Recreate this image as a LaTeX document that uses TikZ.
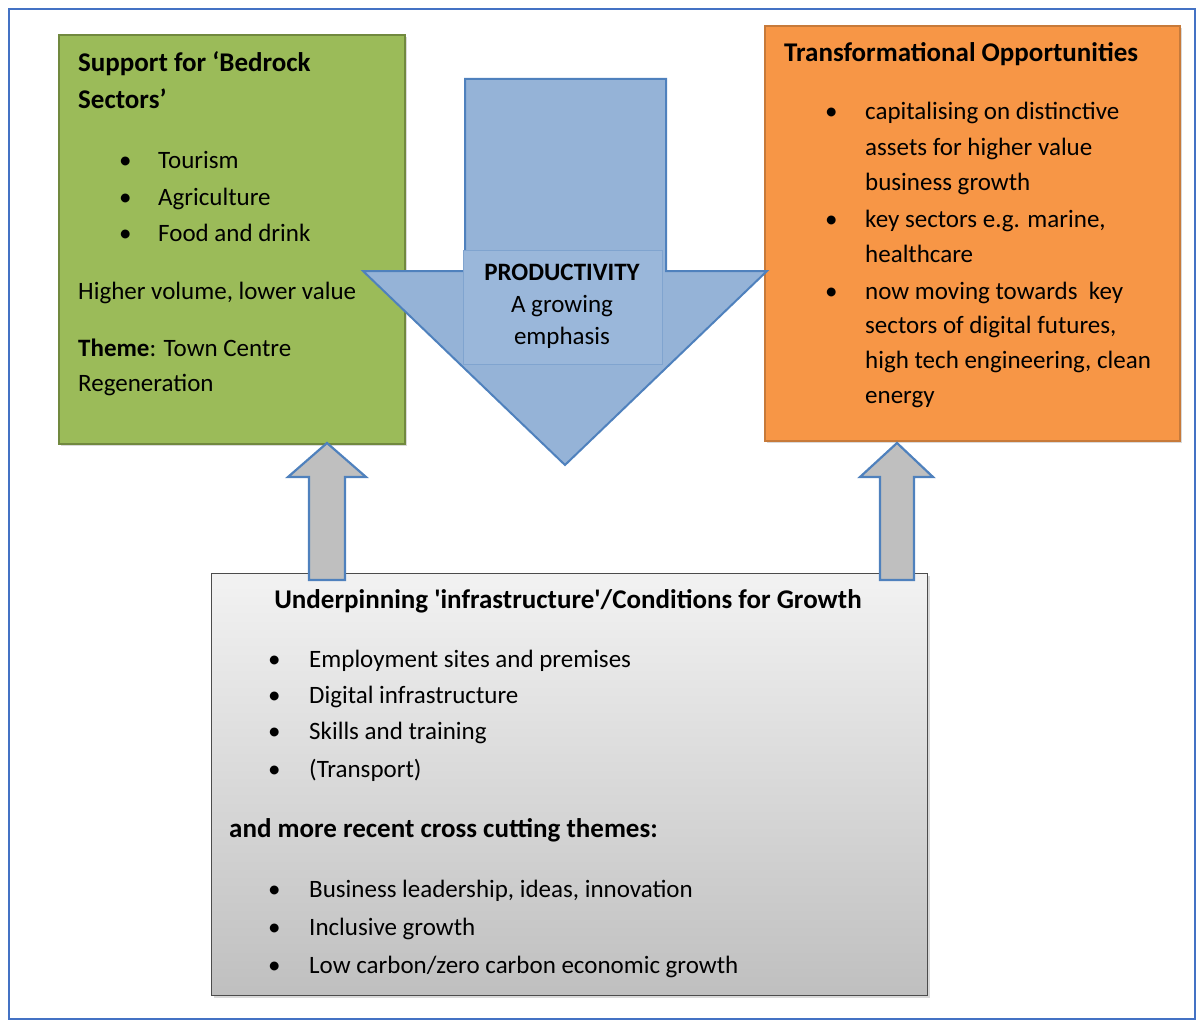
\documentclass[tikz,border=0pt]{standalone}
\usepackage{fontspec}
\setmainfont{Carlito}
\usetikzlibrary{positioning,shadows}

\definecolor{bedrockfill}{HTML}{9BBB59}
\definecolor{bedrockdraw}{HTML}{71893F}
\definecolor{transfill}{HTML}{F79646}
\definecolor{transdraw}{HTML}{C77A3A}
\definecolor{prodfill}{HTML}{95B3D7}
\definecolor{proddraw}{HTML}{4F81BD}
\definecolor{prodinner}{HTML}{9AB7DA}
\definecolor{framecol}{HTML}{4472C4}
\definecolor{uparrow}{HTML}{BFBFBF}

\begin{document}
\begin{tikzpicture}[x=1pt, y=-1pt,
    box/.style={anchor=north west, inner sep=0pt, line width=1.6pt,
        drop shadow={shadow xshift=2pt, shadow yshift=-2pt, opacity=0.3}},
    txt/.style={anchor=base west, inner sep=0pt, font=\fontsize{25}{30}\selectfont},
    head/.style={txt, font=\fontsize{27}{32}\selectfont\bfseries},
    ctxt/.style={txt, anchor=base},
    dot/.style={txt},
    blockarrow/.style={fill=uparrow, draw=proddraw, line width=2.2pt, line join=miter}]
    \useasboundingbox (0,0) rectangle (1203,1022);

    % outer frame
    \draw[framecol, line width=1.3pt] (9,9) rectangle (1195,1019);

    % Bedrock sectors (green)
    \node[box, fill=bedrockfill, draw=bedrockdraw, minimum width=346pt, minimum height=409pt] (bedrock) at (58,34) {};
    \node[head] (bedtitle1) at (78,72) {Support for ‘Bedrock};
    \node[head] (bedtitle2) at (78,109) {Sectors’};
    \foreach \y/\t [count=\i] in {169/Tourism, 205/Agriculture, 241/Food and drink} {
        \node[dot] (bedb\i) at (119,\y) {\textbullet};
        \node[txt] (bed\i) at (158,\y) {\t};
    }
    \node[txt] (bedvol) at (78,299) {Higher volume, lower value};
    \node[txt] (bedtheme) at (78,356) {\textbf{Theme}: Town Centre};
    \node[txt] (bedregen) at (78,391) {Regeneration};

    % Transformational opportunities (orange)
    \node[box, fill=transfill, draw=transdraw, minimum width=415pt, minimum height=415pt] (trans) at (764,25) {};
    \node[head] (transtitle) at (784,62) {Transformational Opportunities};
    \foreach \y [count=\i] in {120,227,299} {
        \node[dot] (transb\i) at (825,\y) {\textbullet};
    }
    \foreach \y/\t [count=\i] in {120/capitalising on distinctive, 156/assets for higher value,
        191/business growth, 227/{key sectors e.g. marine,}, 262/healthcare,
        299/now moving towards\ \ key, 333/{sectors of digital futures,},
        368/{high tech engineering, clean}, 403/energy} {
        \node[txt] (trans\i) at (865,\y) {\t};
    }

    % Underpinning conditions (grey)
    \node[box, top color=gray!10, bottom color=gray!50, draw=black!70, line width=1.2pt,
        minimum width=716pt, minimum height=422pt] (under) at (211,573) {};
    \node[head, anchor=base] (undertitle) at (568,608)
        {Underpinning \textquotesingle infrastructure\textquotesingle/Conditions for Growth};
    \foreach \y/\t [count=\i] in {667/Employment sites and premises, 703/Digital infrastructure,
        739/Skills and training, 777/(Transport), 897/{Business leadership, ideas, innovation},
        935/Inclusive growth, 973/{Low carbon/zero carbon economic growth}} {
        \node[dot] (underb\i) at (268,\y) {\textbullet};
        \node[txt] (under\i) at (309,\y) {\t};
    }
    \node[head] (undermore) at (229,837) {and more recent cross cutting themes:};

    % up arrows
    \draw[blockarrow] (309,580) -- (309,477) -- (288,477) -- (327,443) -- (366,477)
        -- (345,477) -- (345,580) -- cycle;
    \draw[blockarrow] (880,580) -- (880,477) -- (860,477) -- (897,443) -- (933,477)
        -- (914,477) -- (914,580) -- cycle;

    % productivity arrow
    \draw[fill=prodfill, draw=proddraw, line width=2pt, line join=miter]
        (465,79) -- (666,79) -- (666,271) -- (767,271) -- (565,465) -- (363,271)
        -- (465,271) -- cycle;
    \node[anchor=north west, inner sep=0pt, fill=prodinner, draw=proddraw!30!prodfill,
        line width=0.8pt, minimum width=199pt, minimum height=114pt] (prodbox) at (463,250) {};
    \node[ctxt, font=\fontsize{25}{30}\selectfont\bfseries] (prodtitle) at (562,280) {PRODUCTIVITY};
    \node[ctxt] (prod1) at (562,312) {A growing};
    \node[ctxt] (prod2) at (562,344) {emphasis};
\end{tikzpicture}
\end{document}
